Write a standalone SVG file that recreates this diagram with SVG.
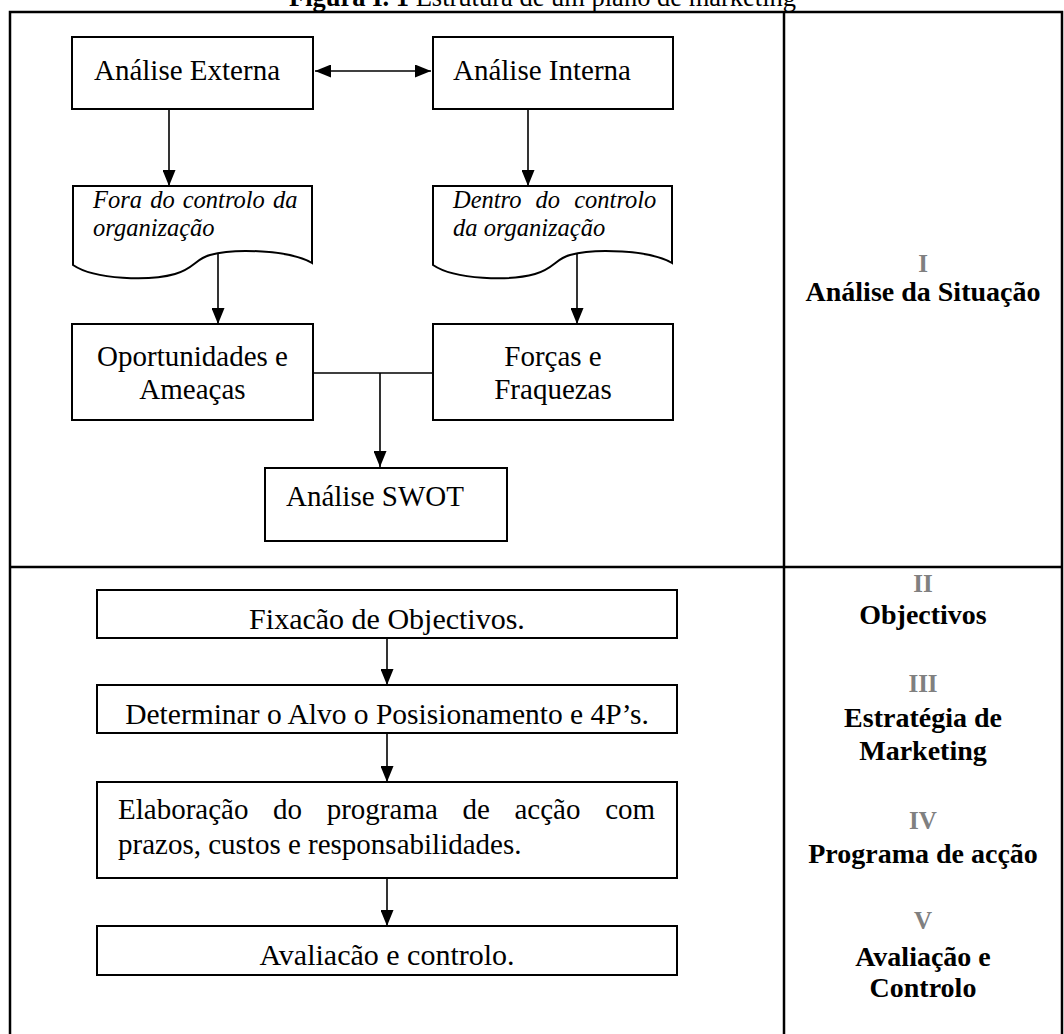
<svg xmlns="http://www.w3.org/2000/svg" width="1064" height="1034" viewBox="0 0 1064 1034">
<style>
.t{font-family:"Liberation Serif","Times New Roman",serif;font-size:29px;fill:#000}
.it{font-family:"Liberation Serif","Times New Roman",serif;font-size:24.5px;font-style:italic;fill:#000}
.lb{font-family:"Liberation Serif","Times New Roman",serif;font-size:28px;font-weight:bold;text-anchor:middle;fill:#000}
.num{font-family:"Liberation Serif","Times New Roman",serif;font-size:25px;font-weight:bold;text-anchor:middle;fill:#808080}
.box{fill:#fff;stroke:#000;stroke-width:2}
.grid{stroke:#000;stroke-width:2.5;fill:none}
.c{stroke:#000;stroke-width:1.6;fill:none}
.mid{text-anchor:middle}
</style>
<defs>
<marker id="ah" markerUnits="userSpaceOnUse" markerWidth="16" markerHeight="13" refX="16" refY="6.5" orient="auto-start-reverse">
<path d="M0,0 L16,6.5 L0,13 Z" fill="#000"/>
</marker>
</defs>
<rect width="1064" height="1034" fill="#fff"/>
<g id="title">
<text x="289" y="6" class="t" style="font-size:26.5px"><tspan font-weight="bold">Figura I. 1</tspan> Estrutura de um plano de marketing</text>
</g>
<g id="table">
<path class="grid" d="M10,1036 V12 H1062 V1036 M784,12 V1036 M10,567 H1062"/>
</g>
<g id="connectors">
<line class="c" x1="315" y1="71" x2="431" y2="71" marker-start="url(#ah)" marker-end="url(#ah)"/>
<line class="c" x1="169" y1="110" x2="169" y2="186" marker-end="url(#ah)"/>
<line class="c" x1="528" y1="110" x2="528" y2="186" marker-end="url(#ah)"/>
<line class="c" x1="218" y1="253" x2="218" y2="324" marker-end="url(#ah)"/>
<line class="c" x1="577" y1="253" x2="577" y2="324" marker-end="url(#ah)"/>
<path class="c" d="M313,373 H433 M380,373 V467" marker-end="url(#ah)"/>
<line class="c" x1="387" y1="639" x2="387" y2="685" marker-end="url(#ah)"/>
<line class="c" x1="387" y1="734" x2="387" y2="782" marker-end="url(#ah)"/>
<line class="c" x1="387" y1="879" x2="387" y2="926" marker-end="url(#ah)"/>
</g>
<g id="analise-externa">
<rect class="box" x="72" y="37" width="241" height="72"/>
<text x="94" y="80" class="t">Análise Externa</text>
</g>
<g id="analise-interna">
<rect class="box" x="433" y="37" width="240" height="72"/>
<text x="453" y="80" class="t">Análise Interna</text>
</g>
<g id="doc-fora">
<path class="box" d="M73,186 H312 V263 C290,250 235,248 210,255 C195,259 195,268 175,274 C150,281 95,280 73,265 Z"/>
<text x="93" y="208" class="it" word-spacing="2">Fora do controlo da</text>
<text x="93" y="236" class="it">organização</text>
</g>
<g id="doc-dentro">
<path class="box" d="M433,186 H672 V263 C650,250 595,248 570,255 C555,259 555,268 535,274 C510,281 455,280 433,265 Z"/>
<text x="453" y="208" class="it" word-spacing="8">Dentro do controlo</text>
<text x="453" y="236" class="it">da organização</text>
</g>
<g id="oportunidades">
<rect class="box" x="72" y="324" width="241" height="96"/>
<text x="192.5" y="366" class="t mid">Oportunidades e</text>
<text x="192.5" y="399" class="t mid">Ameaças</text>
</g>
<g id="forcas">
<rect class="box" x="433" y="324" width="240" height="96"/>
<text x="553" y="366" class="t mid">Forças e</text>
<text x="553" y="399" class="t mid">Fraquezas</text>
</g>
<g id="swot">
<rect class="box" x="265" y="468" width="242" height="73"/>
<text x="286" y="506" class="t">Análise SWOT</text>
</g>
<g id="fixacao">
<rect class="box" x="97" y="590" width="580" height="48"/>
<text x="387" y="629" class="t mid" style="font-size:30px">Fixacão de Objectivos.</text>
</g>
<g id="determinar">
<rect class="box" x="97" y="685" width="580" height="48"/>
<text x="387" y="724" class="t mid" style="font-size:29.5px">Determinar o Alvo o Posisionamento e 4P’s.</text>
</g>
<g id="elaboracao">
<rect class="box" x="97" y="782" width="580" height="96"/>
<text x="118" y="819" class="t" word-spacing="17.4">Elaboração do programa de acção com</text>
<text x="118" y="854" class="t">prazos, custos e responsabilidades.</text>
</g>
<g id="avaliacao">
<rect class="box" x="97" y="926" width="580" height="49"/>
<text x="387" y="965" class="t mid" style="font-size:30px">Avaliacão e controlo.</text>
</g>
<g id="labels">
<text x="923" y="272" class="num">I</text>
<text x="923" y="301" class="lb">Análise da Situação</text>
<text x="923" y="592" class="num">II</text>
<text x="923" y="624" class="lb">Objectivos</text>
<text x="923" y="692" class="num">III</text>
<text x="923" y="727" class="lb">Estratégia de</text>
<text x="923" y="760" class="lb">Marketing</text>
<text x="923" y="829" class="num">IV</text>
<text x="923" y="863" class="lb">Programa de acção</text>
<text x="923" y="929" class="num">V</text>
<text x="923" y="966" class="lb">Avaliação e</text>
<text x="923" y="997" class="lb">Controlo</text>
</g>
</svg>
